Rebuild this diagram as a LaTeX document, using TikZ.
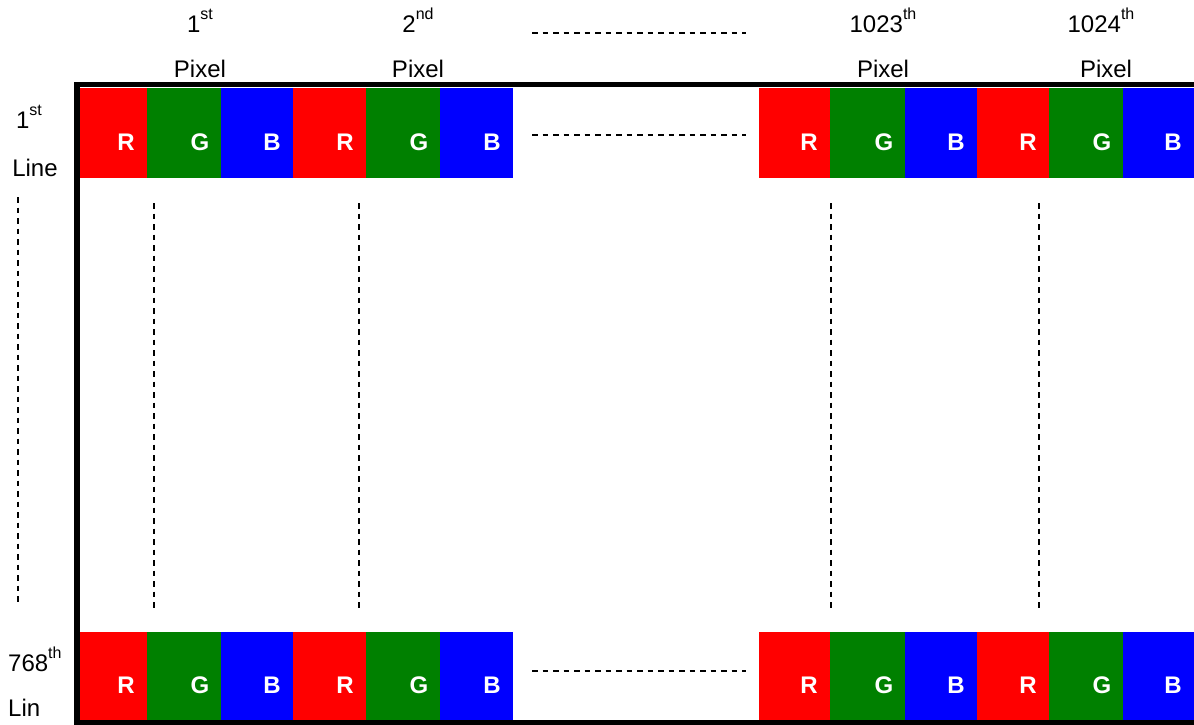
\documentclass[tikz,border=0pt]{standalone}
\usepackage{fontspec}
\setmainfont{Liberation Sans}

\definecolor{pxred}{RGB}{255,0,0}
\definecolor{pxgreen}{RGB}{0,128,0}
\definecolor{pxblue}{RGB}{0,0,255}

\newcommand{\ordsup}[1]{\raisebox{12.5pt}{\fontsize{16}{16}\selectfont #1}}

\begin{document}
\begin{tikzpicture}[x=1pt, y=-1pt]
        \tikzstyle{every node} = [font=\fontsize{24}{28}\selectfont, inner sep=0pt]
        \tikzstyle{cel}  = [inner sep=0pt, outer sep=0pt, anchor=north west]
        \tikzstyle{rgb}  = [font=\fontsize{24}{28}\selectfont\bfseries, text=white, anchor=base]
        \tikzstyle{hdr}  = [anchor=base]
        \tikzstyle{dots} = [line width=1.4pt, dash pattern=on 5.5pt off 5pt]

        \useasboundingbox (0,0) rectangle (1194,724);

        \def\rowa{88}
        \def\rowb{632}
        \def\numy{32}
        \def\pixy{77}

        \foreach \r/\y/\h in {a/\rowa/90, b/\rowb/89}
            \foreach[count=\c] \xa/\xb/\col/\txt in {80/147/pxred/R, 147/221/pxgreen/G, 221/293/pxblue/B,
                    293/366/pxred/R, 366/440/pxgreen/G, 440/513/pxblue/B,
                    759/830/pxred/R, 830/905/pxgreen/G, 905/977/pxblue/B,
                    977/1049/pxred/R, 1049/1123/pxgreen/G, 1123/1194/pxblue/B}
            {
                \node[cel, fill=\col, minimum width={(\xb-\xa)*1pt}, minimum height=\h pt] (c\r\c) at (\xa,\y) {};
                \node[rgb] (t\r\c) at ([xshift=-21pt, yshift=28pt]c\r\c.south east) {\txt};
            }

        \draw[line width=5.5pt] (1200,84.5) -- (77,84.5) -- (77,722.5) -- (1200,722.5);

        \draw[dots] (532,33) -- (746,33);
        \draw[dots] (532,135) -- (746,135);
        \draw[dots] (532,671) -- (746,671);
        \draw[dots] (18,197) -- (18,605);
        \foreach \x in {154,359,831,1039}
            \draw[dots] (\x,203) -- (\x,612);

        \node[hdr] (num1) at (200,\numy) {1\ordsup{st}};
        \node[hdr] (num2) at (418,\numy) {2\ordsup{nd}};
        \node[hdr] (num3) at (883,\numy) {1023\ordsup{th}};
        \node[hdr] (num4) at (1101,\numy) {1024\ordsup{th}};

        \node[hdr] (pix1) at (200,\pixy) {Pixel};
        \node[hdr] (pix2) at (418,\pixy) {Pixel};
        \node[hdr] (pix3) at (883,\pixy) {Pixel};
        \node[hdr] (pix4) at (1106,\pixy) {Pixel};

        \node[hdr] (lina) at (29,128) {1\ordsup{st}};
        \node[hdr] (linb) at (35,176) {Line};
        \node[hdr, anchor=base west] (linc) at (8,671) {768\ordsup{th}};
        \node[hdr, anchor=base west] (lind) at (8,716) {Lin};
\end{tikzpicture}
\end{document}
